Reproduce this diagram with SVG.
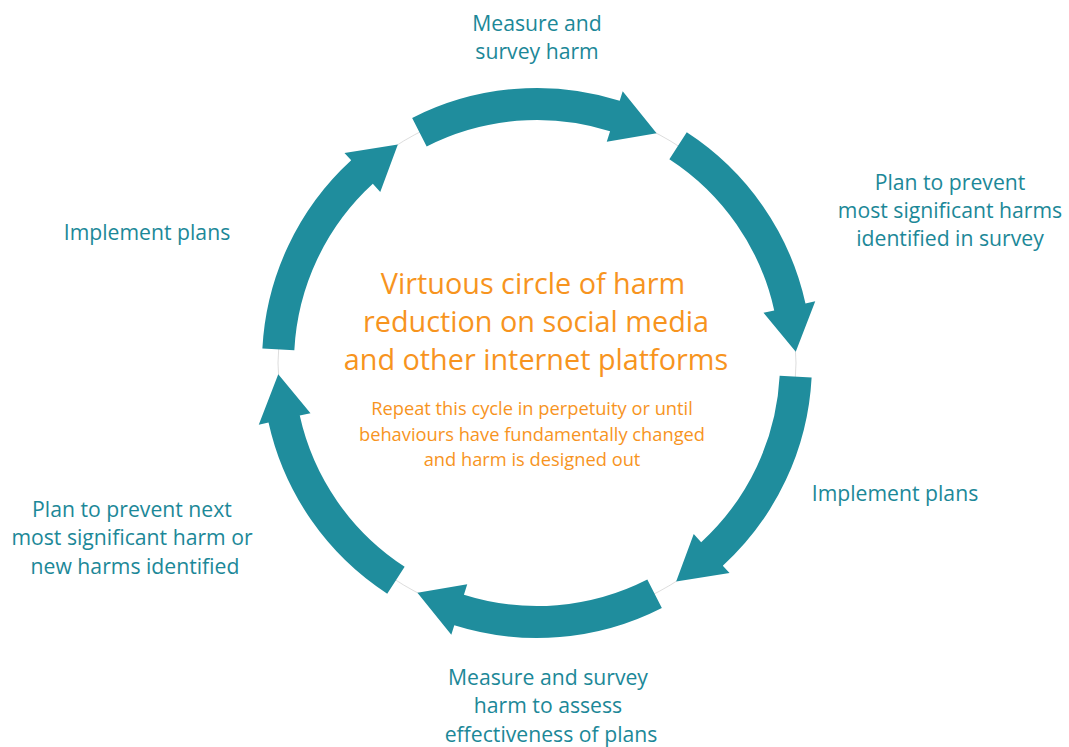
<svg xmlns="http://www.w3.org/2000/svg" width="1069" height="747" viewBox="0 0 1069 747">
  <style>
    .ring { fill: none; stroke: #d4d4d4; stroke-width: 0.8; }
    .arrow { fill: #1f8d9d; }
    .label { font-family: "Open Sans", "Liberation Sans", sans-serif; font-size: 21.2px; fill: #1c8898; text-anchor: middle; }
    .title { font-family: "Open Sans", "Liberation Sans", sans-serif; font-size: 28.8px; fill: #f7941e; text-anchor: middle; }
    .sub { font-family: "Open Sans", "Liberation Sans", sans-serif; font-size: 18.3px; fill: #f7941e; text-anchor: middle; }
  </style>
  <rect width="1069" height="747" fill="#ffffff"/>

  <!-- thin guide ring behind the arrows -->
  <circle class="ring" cx="537" cy="363" r="259"/>

  <g id="connectors">
    <path id="arrow-top" class="arrow" d="M412.15,117.97 A275,275 0 0 1 619.70,100.73 L622.70,91.19 L656.59,133.26 L606.76,141.74 L610.07,131.25 A243,243 0 0 0 426.68,146.48 Z"/>
    <path id="arrow-upper-right" class="arrow" d="M686.78,132.37 A275,275 0 0 1 805.48,303.48 L815.25,301.31 L795.75,351.70 L763.50,312.79 L774.24,310.41 A243,243 0 0 0 669.35,159.20 Z"/>
    <path id="arrow-lower-right" class="arrow" d="M811.62,377.39 A275,275 0 0 1 722.79,565.75 L729.54,573.12 L676.16,581.44 L693.74,534.05 L701.17,542.16 A243,243 0 0 0 779.67,375.72 Z"/>
    <path id="arrow-bottom" class="arrow" d="M661.85,608.03 A275,275 0 0 1 454.30,625.27 L451.30,634.81 L417.41,592.74 L467.24,584.26 L463.93,594.75 A243,243 0 0 0 647.32,579.52 Z"/>
    <path id="arrow-lower-left" class="arrow" d="M387.22,593.63 A275,275 0 0 1 268.52,422.52 L258.75,424.69 L278.25,374.30 L310.50,413.21 L299.76,415.59 A243,243 0 0 0 404.65,566.80 Z"/>
    <path id="arrow-upper-left" class="arrow" d="M262.38,348.61 A275,275 0 0 1 351.21,160.25 L344.46,152.88 L397.84,144.56 L380.26,191.95 L372.83,183.84 A243,243 0 0 0 294.33,350.28 Z"/>
  </g>

  <g id="node-center">
    <text class="title" x="533" y="294">Virtuous circle of harm</text>
    <text class="title" x="536" y="332">reduction on social media</text>
    <text class="title" x="536" y="370">and other internet platforms</text>
    <text class="sub" x="532" y="415">Repeat this cycle in perpetuity or until</text>
    <text class="sub" x="532" y="441">behaviours have fundamentally changed</text>
    <text class="sub" x="532" y="466">and harm is designed out</text>
  </g>

  <g id="node-measure-top">
    <text class="label" x="537" y="31">Measure and</text>
    <text class="label" x="537" y="59">survey harm</text>
  </g>

  <g id="node-plan-top">
    <text class="label" x="950" y="190">Plan to prevent</text>
    <text class="label" x="950" y="218">most significant harms</text>
    <text class="label" x="950" y="246">identified in survey</text>
  </g>

  <g id="node-implement-right">
    <text class="label" x="895" y="501">Implement plans</text>
  </g>

  <g id="node-measure-bottom">
    <text class="label" x="548" y="685">Measure and survey</text>
    <text class="label" x="548" y="713">harm to assess</text>
    <text class="label" x="551" y="742">effectiveness of plans</text>
  </g>

  <g id="node-plan-next">
    <text class="label" x="132" y="517">Plan to prevent next</text>
    <text class="label" x="132" y="545">most significant harm or</text>
    <text class="label" x="135" y="574">new harms identified</text>
  </g>

  <g id="node-implement-left">
    <text class="label" x="147" y="240">Implement plans</text>
  </g>
</svg>
